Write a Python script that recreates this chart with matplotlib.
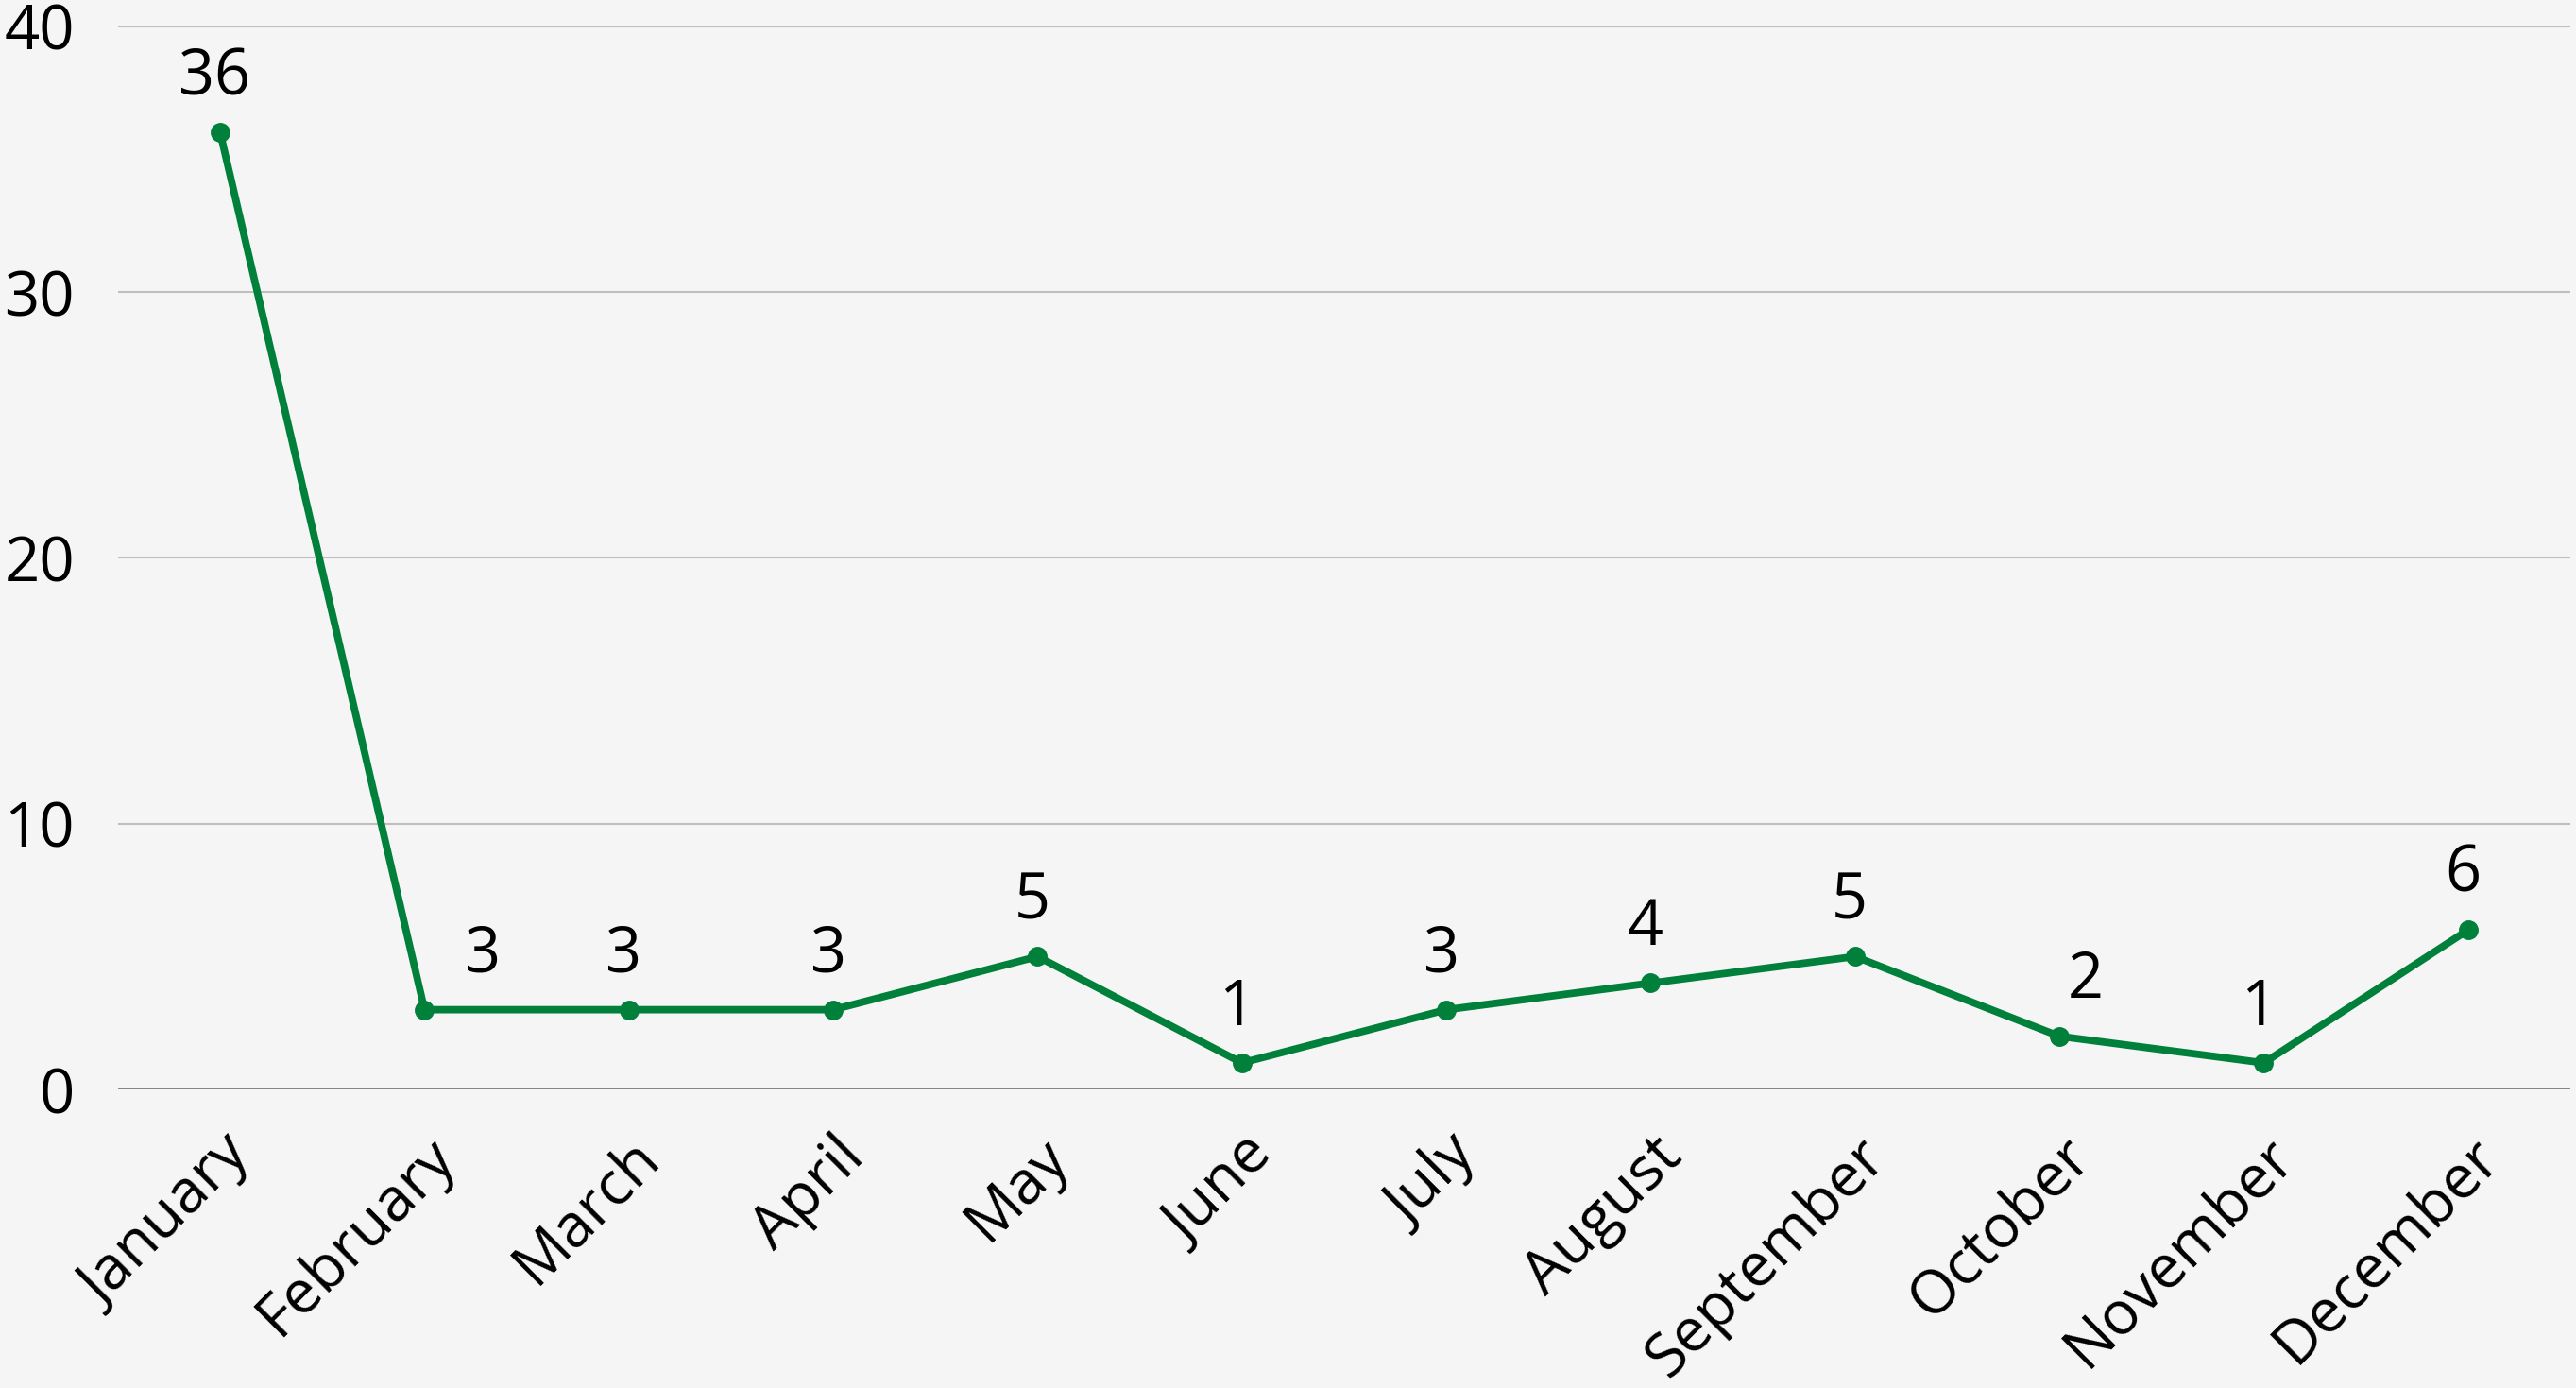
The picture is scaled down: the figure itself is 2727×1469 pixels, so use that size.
import matplotlib.pyplot as plt

months = ['January', 'February', 'March', 'April', 'May', 'June',
          'July', 'August', 'September', 'October', 'November', 'December']
counts = [36, 3, 3, 3, 5, 1, 3, 4, 5, 2, 1, 6]
y_ticks = [0, 10, 20, 30, 40]

plt.rcParams['font.family'] = ['Open Sans', 'DejaVu Sans']

fig = plt.figure(figsize=(27.27, 14.69), dpi=100)
fig.patch.set_facecolor('#f5f5f5')
ax = fig.add_axes([0.0458, 0.2151, 0.952, 0.766])
ax.set_facecolor('#f5f5f5')

x = list(range(len(months)))
ax.plot(x, counts, color='#00803a', linewidth=5.6, marker='o', markersize=14,
        zorder=3)

# labels nudged sideways where the line would run through them
for i, (xi, v) in enumerate(zip(x, counts)):
    dx = -4
    if i == 1:
        dx = 44
    elif i == 9:
        dx = 20
    ax.annotate(str(v), (xi, v), xytext=(dx, 29), textcoords='offset points',
                ha='center', va='baseline', fontsize=48, color='black')

ax.set_xlim(-0.5, len(months) - 0.5)
ax.set_ylim(0, 40)
ax.set_yticks(y_ticks)
ax.set_yticklabels([str(t) for t in y_ticks], fontsize=47)
ax.set_xticks(x)
ax.set_xticklabels(months, fontsize=46, rotation=45, ha='right',
                   va='top', rotation_mode='anchor')
ax.tick_params(axis='x', length=0, pad=28)
ax.tick_params(axis='y', length=0, pad=33)

ax.grid(axis='y', color='#bfbfbf', linewidth=1.5)
ax.axhline(0, color='#808080', linewidth=2, zorder=2)
for s in ax.spines.values():
    s.set_visible(False)

plt.savefig('out.png', facecolor=fig.get_facecolor())
